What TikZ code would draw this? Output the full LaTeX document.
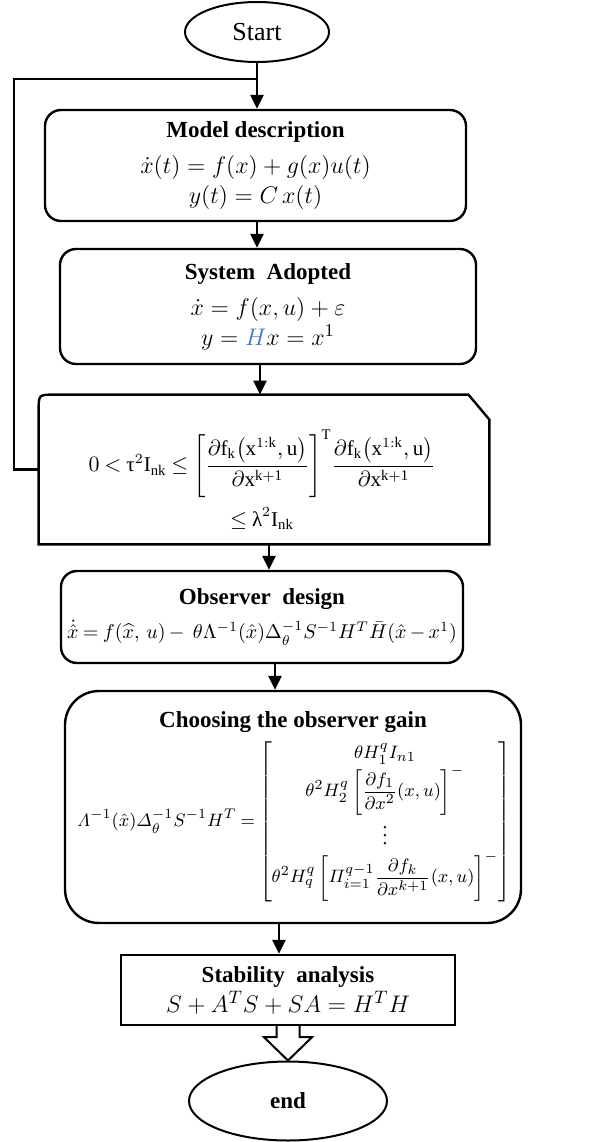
\documentclass[tikz,border=0pt]{standalone}
\usepackage{amsmath,amssymb}
\usepackage{fontspec}
\setmainfont{Liberation Serif}
\usetikzlibrary{arrows.meta,shapes.geometric}
\definecolor{hblue}{RGB}{68,114,196}
\newcommand{\tightmath}{\medmuskip=3mu\thickmuskip=4mu}

\begin{document}
\begin{tikzpicture}[x=0.5pt,y=-0.5pt,
    arr/.style={-{Triangle[width=6.5pt,length=7pt]},line width=1.2pt},
    line/.style={line width=1.2pt},
    terminal/.style={ellipse,draw,line width=1pt,inner sep=0pt},
    stepbox/.style={draw,line width=1.2pt,rounded corners=8pt,align=center,inner sep=0pt,
      font=\fontsize{12.5}{15}\selectfont},
    title/.style={font=\bfseries\fontsize{11.5}{14}\selectfont}]
    \useasboundingbox (0,0) rectangle (612,1142);

    % Start
    \node[terminal,minimum width=72pt,minimum height=30pt,font=\fontsize{13}{16}\selectfont] (start) at (257,32) {Start};

    % Model description
    \node[stepbox,minimum width=210.5pt,minimum height=55.5pt] (model) at (255.5,165.5)
      {{\bfseries\fontsize{11.5}{14}\selectfont Model description}\\[3pt] $\dot{x}(t)=f(x)+g(x)u(t)$\\ $y(t)=C\,x(t)$};

    % System adopted
    \node[stepbox,minimum width=208pt,minimum height=57.5pt] (adopted) at (268,306.5)
      {{\bfseries\fontsize{11.5}{14}\selectfont System\ \ Adopted}\\[3pt] $\dot{x}=f(x,u)+\varepsilon$\\ $y=\textcolor{hblue}{H}x=x^1$};

    % Condition (cut corner)
    \node[minimum width=225pt,minimum height=74.5pt,inner sep=0pt] (cond) at (264,469.5) {};
    \draw[line] (cond.south west) -- ([yshift=-8pt]cond.north west)
      .. controls (cond.north west) .. ([xshift=8pt]cond.north west)
      -- ([xshift=-10.5pt]cond.north east) -- ([yshift=-12.5pt]cond.north east)
      -- (cond.south east) -- cycle;
    \node[align=center,font=\fontsize{10.5}{12.5}\selectfont\tightmath] (condtxt) at (262,480)
      {$0<\text{τ}^2\mathrm{I}_{\mathrm{nk}}\le
        \left[\dfrac{\partial\mathrm{f}_{\mathrm{k}}\bigl(\mathrm{x}^{1{:}\mathrm{k}},\mathrm{u}\bigr)}{\partial\mathrm{x}^{\mathrm{k+1}}}\right]^{\mathrm{T}}\!
        \dfrac{\partial\mathrm{f}_{\mathrm{k}}\bigl(\mathrm{x}^{1{:}\mathrm{k}},\mathrm{u}\bigr)}{\partial\mathrm{x}^{\mathrm{k+1}}}$\\[4pt]
       $\le\text{λ}^2\mathrm{I}_{\mathrm{nk}}$};

    % Observer design
    \node[stepbox,minimum width=201pt,minimum height=46pt] (observer) at (262,617)
      {{\bfseries\fontsize{11.5}{14}\selectfont Observer\ \ design}\\[2pt]
       {\fontsize{10.2}{12}\selectfont\tightmath
       $\dot{\hat{x}}=f(\widehat{x},\,u)-\ \theta\Lambda^{-1}(\hat{x})\Delta_\theta^{-1}S^{-1}H^T\bar{H}(\hat{x}-x^1)$}};

    % Observer gain
    \node[stepbox,rounded corners=17pt,minimum width=228pt,minimum height=116pt] (gain) at (293,807) {};
    \node[title] (gaintitle) at (293,722) {Choosing the observer gain};
    \node[font=\fontsize{9.5}{11.4}\selectfont\tightmath,inner sep=0pt] (gaineq) at (294,822)
      {\renewcommand{\arraystretch}{1}\setlength{\arraycolsep}{1pt}%
       $\varLambda^{-1}(\hat{x})\varDelta_\theta^{-1}S^{-1}H^T=
        \left[\begin{matrix}
          \theta H_1^q I_{n1}\\
          \theta^2H_2^q\left[\dfrac{\partial f_1}{\partial x^2}(x,u)\right]^{-}\\
          \vdots\\
          \theta^2H_q^q\left[\varPi_{i=1}^{q-1}\dfrac{\partial f_k}{\partial x^{k+1}}(x,u)\right]^{-}
        \end{matrix}\right]$};

    % Stability analysis
    \node[draw,line width=1.2pt,align=center,inner sep=0pt,minimum width=167pt,minimum height=35pt,
      font=\fontsize{12.5}{15}\selectfont] (stab) at (288,990)
      {{\bfseries\fontsize{11.5}{14}\selectfont Stability\ \ analysis}\\ $S+A^TS+SA=H^TH$};

    % End
    \node[terminal,minimum width=99pt,minimum height=39.5pt,font=\bfseries\fontsize{11.5}{14}\selectfont] (end) at (288,1101) {end};

    % Connectors
    \coordinate (corner) at (14,79);
    \draw[arr] (start.south) -- (start.south |- model.north);
    \draw[line] (cond.west) -| (corner) -- (corner -| start.south);
    \draw[arr] (model.south -| start) -- (adopted.north -| start);
    \draw[arr] ([xshift=1.5pt]adopted.south -| start) -- ([xshift=1.5pt]cond.north -| start);
    \draw[arr] ([xshift=2.5pt]cond.south) -- ([xshift=2.5pt]cond.south |- observer.north);
    \draw[arr] ([xshift=6.5pt]observer.south) -- ([xshift=6.5pt]observer.south |- gain.north);
    \draw[arr] ([xshift=-7pt]gain.south) -- ([xshift=-7pt]gain.south |- stab.north);

    % Block arrow to end
    \draw[line width=1pt,fill=white] ([xshift=-5.75pt]stab.south) -- ([xshift=-5.75pt,yshift=-5.5pt]stab.south)
      -- ([xshift=-12pt,yshift=-5.5pt]stab.south) -- (end.north)
      -- ([xshift=12pt,yshift=-5.5pt]stab.south) -- ([xshift=5.75pt,yshift=-5.5pt]stab.south)
      -- ([xshift=5.75pt]stab.south);
\end{tikzpicture}
\end{document}
